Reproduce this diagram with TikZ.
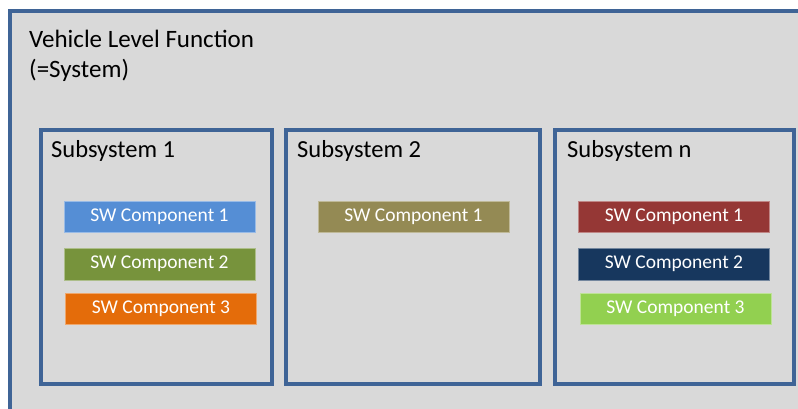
\documentclass[tikz,border=0pt]{standalone}
\usepackage{fontspec}
\setmainfont{Carlito}
\definecolor{bggray}{HTML}{D9D9D9}
\definecolor{framecol}{HTML}{3F6496}
\definecolor{cblue}{HTML}{558ED5}
\definecolor{cgreen}{HTML}{77933C}
\definecolor{corange}{HTML}{E46C0A}
\definecolor{colive}{HTML}{948A54}
\definecolor{cred}{HTML}{953735}
\definecolor{cnavy}{HTML}{17375E}
\definecolor{clgreen}{HTML}{92D050}
\begin{document}
\begin{tikzpicture}[x=1pt,y=-1pt,
  frame/.style={draw=framecol, line width=3.2pt},
  subbox/.style={frame, fill=bggray, rectangle, inner sep=0pt, minimum height=254pt},
  titletext/.style={anchor=base west, inner sep=0pt, font=\fontsize{25}{30}\selectfont, text=black},
  sublabel/.style={anchor=base west, inner sep=0pt, font=\fontsize{24.5}{29}\selectfont, text=black},
  comp/.style={rectangle, inner sep=0pt, minimum width=191pt, minimum height=31pt, text=white, font=\fontsize{19.5}{23}\selectfont, draw=white!40!#1, line width=0.6pt, fill=#1}
]
\useasboundingbox (0,0) rectangle (798,408);
\clip (0,0) rectangle (798,408);
\fill[white] (0,0) rectangle (798,408);
% outer system frame (extends beyond the picture edge)
\draw[frame, fill=bggray] (10,11) rectangle (830,440);
\node[titletext] (title1) at (29,47) {Vehicle Level Function};
\node[titletext] (title2) at (29,77) {(=System)};
% subsystems
\node[subbox, minimum width=231pt] (sub1) at (156.5,257) {};
\node[subbox, minimum width=254pt] (sub2) at (413,257) {};
\node[subbox, minimum width=239pt] (subn) at (674.5,257) {};
\node[sublabel] (lab1) at (51,157) {Subsystem 1};
\node[sublabel] (lab2) at (297,157) {Subsystem 2};
\node[sublabel] (labn) at (567,157) {Subsystem n};
% components
\node[comp=cblue] (s1c1) at (159.5,216.5) {SW Component 1};
\node[comp=cgreen, minimum height=32pt] (s1c2) at (159.5,264) {SW Component 2};
\node[comp=corange] (s1c3) at (161,308.5) {SW Component 3};
\node[comp=colive] (s2c1) at (413.5,216.5) {SW Component 1};
\node[comp=cred] (snc1) at (674,216.5) {SW Component 1};
\node[comp=cnavy, minimum height=32pt] (snc2) at (674,264) {SW Component 2};
\node[comp=clgreen] (snc3) at (675.5,308.5) {SW Component 3};
\end{tikzpicture}
\end{document}
